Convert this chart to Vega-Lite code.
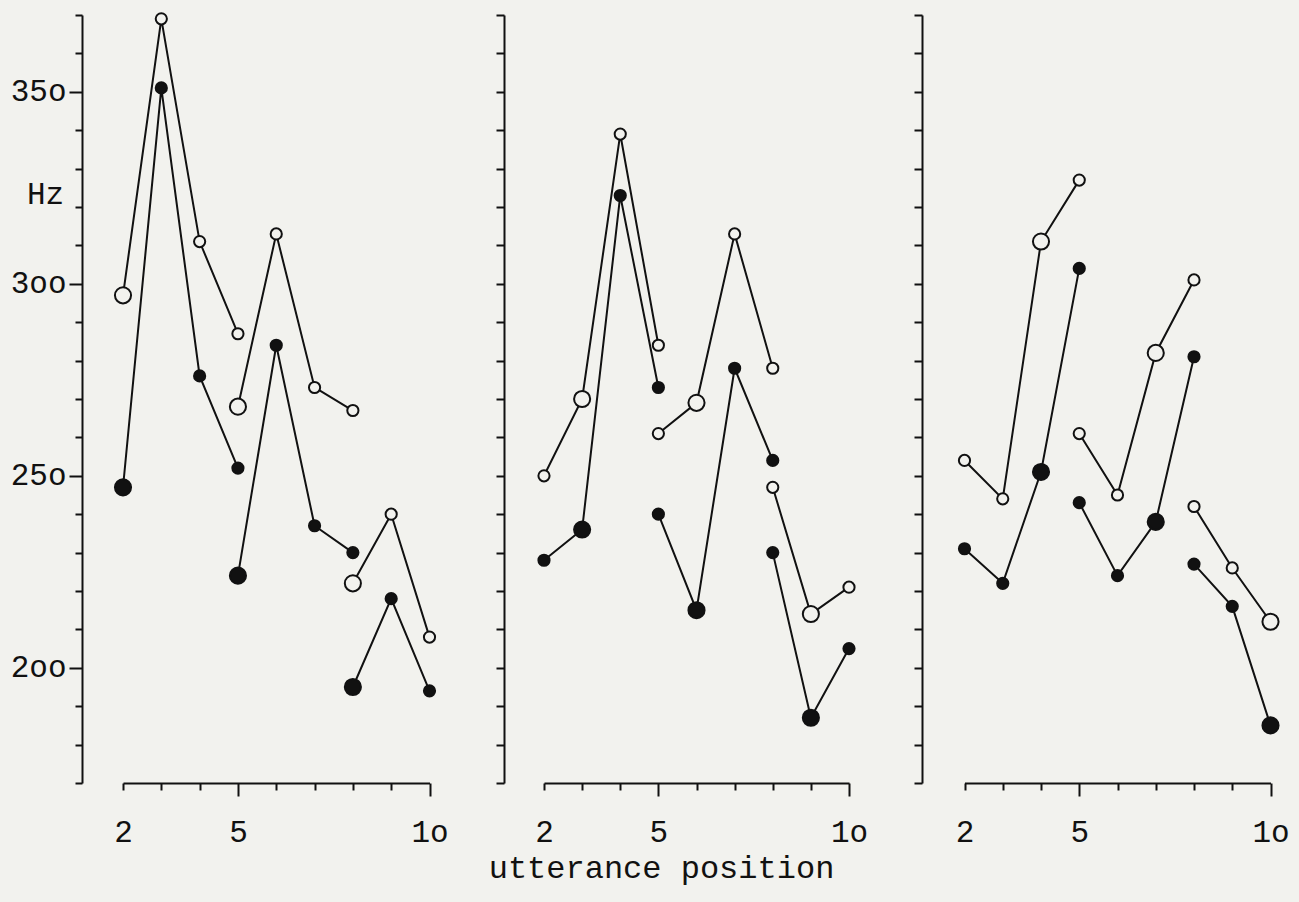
{
  "$schema": "https://vega.github.io/schema/vega-lite/v6.json",
  "background": "#f2f2ee",
  "padding": {"left": 10, "top": 9, "right": 10, "bottom": 25},
  "bounds": "flush",
  "spacing": 60,
  "config": {
    "view": {"stroke": null},
    "font": "Liberation Mono",
    "axis": {"grid": false, "domainColor": "#111", "domainWidth": 2, "tickColor": "#111", "tickWidth": 2, "labelColor": "#111", "titleColor": "#111", "labelFont": "Liberation Mono", "titleFont": "Liberation Mono", "labelFontSize": 31, "titleFontSize": 31, "titleFontWeight": "normal", "labelOverlap": false, "labelBound": false, "labelFlush": false}
  },
  "data": {"values": [
    {"panel": 1, "series": "open", "seg": "A", "pos": 2, "hz": 297, "stressed": "yes"},
    {"panel": 1, "series": "open", "seg": "A", "pos": 3, "hz": 369, "stressed": "no"},
    {"panel": 1, "series": "open", "seg": "A", "pos": 4, "hz": 311, "stressed": "no"},
    {"panel": 1, "series": "open", "seg": "A", "pos": 5, "hz": 287, "stressed": "no"},
    {"panel": 1, "series": "open", "seg": "B", "pos": 5, "hz": 268, "stressed": "yes"},
    {"panel": 1, "series": "open", "seg": "B", "pos": 6, "hz": 313, "stressed": "no"},
    {"panel": 1, "series": "open", "seg": "B", "pos": 7, "hz": 273, "stressed": "no"},
    {"panel": 1, "series": "open", "seg": "B", "pos": 8, "hz": 267, "stressed": "no"},
    {"panel": 1, "series": "open", "seg": "C", "pos": 8, "hz": 222, "stressed": "yes"},
    {"panel": 1, "series": "open", "seg": "C", "pos": 9, "hz": 240, "stressed": "no"},
    {"panel": 1, "series": "open", "seg": "C", "pos": 10, "hz": 208, "stressed": "no"},
    {"panel": 1, "series": "filled", "seg": "A", "pos": 2, "hz": 247, "stressed": "yes"},
    {"panel": 1, "series": "filled", "seg": "A", "pos": 3, "hz": 351, "stressed": "no"},
    {"panel": 1, "series": "filled", "seg": "A", "pos": 4, "hz": 276, "stressed": "no"},
    {"panel": 1, "series": "filled", "seg": "A", "pos": 5, "hz": 252, "stressed": "no"},
    {"panel": 1, "series": "filled", "seg": "B", "pos": 5, "hz": 224, "stressed": "yes"},
    {"panel": 1, "series": "filled", "seg": "B", "pos": 6, "hz": 284, "stressed": "no"},
    {"panel": 1, "series": "filled", "seg": "B", "pos": 7, "hz": 237, "stressed": "no"},
    {"panel": 1, "series": "filled", "seg": "B", "pos": 8, "hz": 230, "stressed": "no"},
    {"panel": 1, "series": "filled", "seg": "C", "pos": 8, "hz": 195, "stressed": "yes"},
    {"panel": 1, "series": "filled", "seg": "C", "pos": 9, "hz": 218, "stressed": "no"},
    {"panel": 1, "series": "filled", "seg": "C", "pos": 10, "hz": 194, "stressed": "no"},

    {"panel": 2, "series": "open", "seg": "A", "pos": 2, "hz": 250, "stressed": "no"},
    {"panel": 2, "series": "open", "seg": "A", "pos": 3, "hz": 270, "stressed": "yes"},
    {"panel": 2, "series": "open", "seg": "A", "pos": 4, "hz": 339, "stressed": "no"},
    {"panel": 2, "series": "open", "seg": "A", "pos": 5, "hz": 284, "stressed": "no"},
    {"panel": 2, "series": "open", "seg": "B", "pos": 5, "hz": 261, "stressed": "no"},
    {"panel": 2, "series": "open", "seg": "B", "pos": 6, "hz": 269, "stressed": "yes"},
    {"panel": 2, "series": "open", "seg": "B", "pos": 7, "hz": 313, "stressed": "no"},
    {"panel": 2, "series": "open", "seg": "B", "pos": 8, "hz": 278, "stressed": "no"},
    {"panel": 2, "series": "open", "seg": "C", "pos": 8, "hz": 247, "stressed": "no"},
    {"panel": 2, "series": "open", "seg": "C", "pos": 9, "hz": 214, "stressed": "yes"},
    {"panel": 2, "series": "open", "seg": "C", "pos": 10, "hz": 221, "stressed": "no"},
    {"panel": 2, "series": "filled", "seg": "A", "pos": 2, "hz": 228, "stressed": "no"},
    {"panel": 2, "series": "filled", "seg": "A", "pos": 3, "hz": 236, "stressed": "yes"},
    {"panel": 2, "series": "filled", "seg": "A", "pos": 4, "hz": 323, "stressed": "no"},
    {"panel": 2, "series": "filled", "seg": "A", "pos": 5, "hz": 273, "stressed": "no"},
    {"panel": 2, "series": "filled", "seg": "B", "pos": 5, "hz": 240, "stressed": "no"},
    {"panel": 2, "series": "filled", "seg": "B", "pos": 6, "hz": 215, "stressed": "yes"},
    {"panel": 2, "series": "filled", "seg": "B", "pos": 7, "hz": 278, "stressed": "no"},
    {"panel": 2, "series": "filled", "seg": "B", "pos": 8, "hz": 254, "stressed": "no"},
    {"panel": 2, "series": "filled", "seg": "C", "pos": 8, "hz": 230, "stressed": "no"},
    {"panel": 2, "series": "filled", "seg": "C", "pos": 9, "hz": 187, "stressed": "yes"},
    {"panel": 2, "series": "filled", "seg": "C", "pos": 10, "hz": 205, "stressed": "no"},

    {"panel": 3, "series": "open", "seg": "A", "pos": 2, "hz": 254, "stressed": "no"},
    {"panel": 3, "series": "open", "seg": "A", "pos": 3, "hz": 244, "stressed": "no"},
    {"panel": 3, "series": "open", "seg": "A", "pos": 4, "hz": 311, "stressed": "yes"},
    {"panel": 3, "series": "open", "seg": "A", "pos": 5, "hz": 327, "stressed": "no"},
    {"panel": 3, "series": "open", "seg": "B", "pos": 5, "hz": 261, "stressed": "no"},
    {"panel": 3, "series": "open", "seg": "B", "pos": 6, "hz": 245, "stressed": "no"},
    {"panel": 3, "series": "open", "seg": "B", "pos": 7, "hz": 282, "stressed": "yes"},
    {"panel": 3, "series": "open", "seg": "B", "pos": 8, "hz": 301, "stressed": "no"},
    {"panel": 3, "series": "open", "seg": "C", "pos": 8, "hz": 242, "stressed": "no"},
    {"panel": 3, "series": "open", "seg": "C", "pos": 9, "hz": 226, "stressed": "no"},
    {"panel": 3, "series": "open", "seg": "C", "pos": 10, "hz": 212, "stressed": "yes"},
    {"panel": 3, "series": "filled", "seg": "A", "pos": 2, "hz": 231, "stressed": "no"},
    {"panel": 3, "series": "filled", "seg": "A", "pos": 3, "hz": 222, "stressed": "no"},
    {"panel": 3, "series": "filled", "seg": "A", "pos": 4, "hz": 251, "stressed": "yes"},
    {"panel": 3, "series": "filled", "seg": "A", "pos": 5, "hz": 304, "stressed": "no"},
    {"panel": 3, "series": "filled", "seg": "B", "pos": 5, "hz": 243, "stressed": "no"},
    {"panel": 3, "series": "filled", "seg": "B", "pos": 6, "hz": 224, "stressed": "no"},
    {"panel": 3, "series": "filled", "seg": "B", "pos": 7, "hz": 238, "stressed": "yes"},
    {"panel": 3, "series": "filled", "seg": "B", "pos": 8, "hz": 281, "stressed": "no"},
    {"panel": 3, "series": "filled", "seg": "C", "pos": 8, "hz": 227, "stressed": "no"},
    {"panel": 3, "series": "filled", "seg": "C", "pos": 9, "hz": 216, "stressed": "no"},
    {"panel": 3, "series": "filled", "seg": "C", "pos": 10, "hz": 185, "stressed": "yes"}
  ]},
  "hconcat": [
    {
      "width": 361.5, "height": 768,
      "transform": [{"filter": "datum.panel == 1"}],
      "encoding": {
        "x": {"field": "pos", "type": "quantitative", "scale": {"domain": [2, 10], "range": [41, 347.5]},
          "axis": {"values": [2,3,4,5,6,7,8,9,10], "title": null, "labelExpr": "datum.value == 10 ? '1o' : (datum.value == 2 || datum.value == 5) ? datum.label : ''", "labelPadding": {"condition": {"test": "datum.value == 5 || datum.value == 10", "value": 21}, "value": 27}, "tickSize": {"condition": {"test": "datum.value == 5 || datum.value == 10", "value": 13}, "value": 7}}},
        "y": {"field": "hz", "type": "quantitative", "scale": {"domain": [170, 370], "nice": false, "zero": false},
          "axis": {"values": [170,180,190,200,210,220,230,240,250,260,270,280,290,300,310,320,330,340,350,360,370], "labelExpr": "datum.value == 350 ? '35o' : datum.value == 300 ? '3oo' : datum.value == 250 ? '25o' : datum.value == 200 ? '2oo' : ''", "labelFontSize": {"condition": {"test": "datum.value % 50 == 0", "value": 31}, "value": 1}, "labelPadding": 3, "tickSize": {"condition": {"test": "datum.value % 50 == 0", "value": 13}, "value": 7}, "labelBaseline": "middle",
            "title": "Hz", "titleAngle": 0, "titleAlign": "center", "titleBaseline": "middle", "titleX": -37, "titleY": 179}}
      },
      "layer": [
        {"mark": {"type": "line", "color": "#111", "strokeWidth": 2}, "encoding": {"detail": [{"field": "series"}, {"field": "seg"}]}},
        {"mark": {"type": "point", "shape": "circle", "filled": true, "stroke": "#111", "strokeWidth": 2, "opacity": 1},
          "encoding": {
            "fill": {"field": "series", "type": "nominal", "scale": {"domain": ["open", "filled"], "range": ["#f2f2ee", "#111"]}, "legend": null},
            "size": {"field": "stressed", "type": "nominal", "scale": {"domain": ["no", "yes"], "range": [125, 260]}, "legend": null}
          }}
      ]
    },
    {
      "width": 357.5, "height": 768,
      "transform": [{"filter": "datum.panel == 2"}],
      "encoding": {
        "x": {"field": "pos", "type": "quantitative", "scale": {"domain": [2, 10], "range": [40, 345]},
          "axis": {"values": [2,3,4,5,6,7,8,9,10], "labelExpr": "datum.value == 10 ? '1o' : (datum.value == 2 || datum.value == 5) ? datum.label : ''", "labelPadding": {"condition": {"test": "datum.value == 5 || datum.value == 10", "value": 21}, "value": 27}, "tickSize": {"condition": {"test": "datum.value == 5 || datum.value == 10", "value": 13}, "value": 7},
            "title": "utterance position", "titleFontSize": 32, "titleX": 157, "titleY": 94, "titleAlign": "center", "titleBaseline": "alphabetic"}},
        "y": {"field": "hz", "type": "quantitative", "scale": {"domain": [170, 370], "nice": false, "zero": false},
          "axis": {"values": [170,180,190,200,210,220,230,240,250,260,270,280,290,300,310,320,330,340,350,360,370], "labels": false, "tickSize": 8, "title": null}}
      },
      "layer": [
        {"mark": {"type": "line", "color": "#111", "strokeWidth": 2}, "encoding": {"detail": [{"field": "series"}, {"field": "seg"}]}},
        {"mark": {"type": "point", "shape": "circle", "filled": true, "stroke": "#111", "strokeWidth": 2, "opacity": 1},
          "encoding": {
            "fill": {"field": "series", "type": "nominal", "scale": {"domain": ["open", "filled"], "range": ["#f2f2ee", "#111"]}, "legend": null},
            "size": {"field": "stressed", "type": "nominal", "scale": {"domain": ["no", "yes"], "range": [125, 260]}, "legend": null}
          }}
      ]
    },
    {
      "width": 360, "height": 768,
      "transform": [{"filter": "datum.panel == 3"}],
      "encoding": {
        "x": {"field": "pos", "type": "quantitative", "scale": {"domain": [2, 10], "range": [42.5, 348.5]},
          "axis": {"values": [2,3,4,5,6,7,8,9,10], "title": null, "labelExpr": "datum.value == 10 ? '1o' : (datum.value == 2 || datum.value == 5) ? datum.label : ''", "labelPadding": {"condition": {"test": "datum.value == 5 || datum.value == 10", "value": 21}, "value": 27}, "tickSize": {"condition": {"test": "datum.value == 5 || datum.value == 10", "value": 13}, "value": 7}}},
        "y": {"field": "hz", "type": "quantitative", "scale": {"domain": [170, 370], "nice": false, "zero": false},
          "axis": {"values": [170,180,190,200,210,220,230,240,250,260,270,280,290,300,310,320,330,340,350,360,370], "labels": false, "tickSize": 8, "title": null}}
      },
      "layer": [
        {"mark": {"type": "line", "color": "#111", "strokeWidth": 2}, "encoding": {"detail": [{"field": "series"}, {"field": "seg"}]}},
        {"mark": {"type": "point", "shape": "circle", "filled": true, "stroke": "#111", "strokeWidth": 2, "opacity": 1},
          "encoding": {
            "fill": {"field": "series", "type": "nominal", "scale": {"domain": ["open", "filled"], "range": ["#f2f2ee", "#111"]}, "legend": null},
            "size": {"field": "stressed", "type": "nominal", "scale": {"domain": ["no", "yes"], "range": [125, 260]}, "legend": null}
          }}
      ]
    }
  ]
}
